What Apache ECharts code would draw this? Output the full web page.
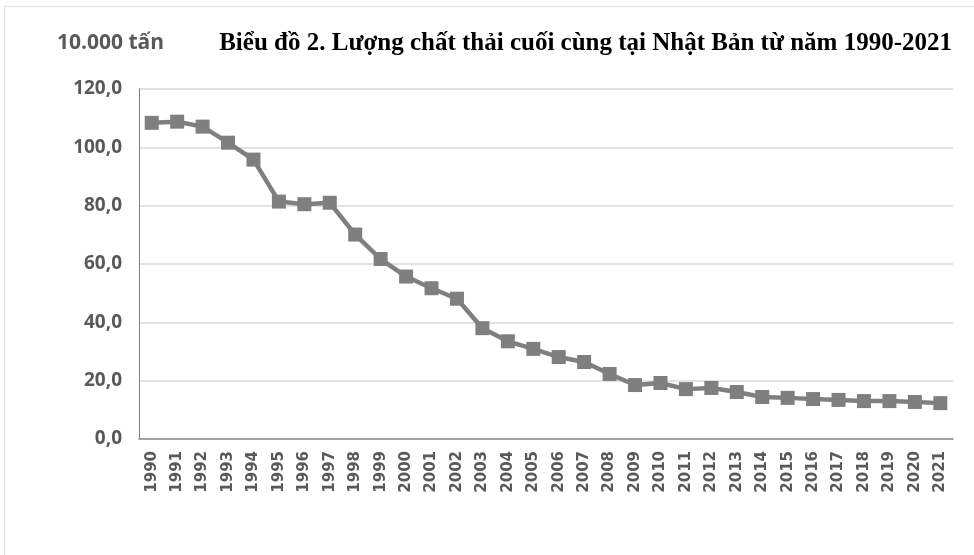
<!DOCTYPE html>
<html>
<head>
<meta charset="utf-8">
<script src="https://cdn.jsdelivr.net/npm/echarts@6/dist/echarts.min.js"></script>
<style>html,body{margin:0;padding:0;background:#fff;}#c{width:974px;height:555px;}</style>
</head>
<body>
<div id="c"></div>
<script>
var years = ['1990','1991','1992','1993','1994','1995','1996','1997','1998','1999','2000','2001','2002','2003','2004','2005','2006','2007','2008','2009','2010','2011','2012','2013','2014','2015','2016','2017','2018','2019','2020','2021'];
var values = [108.4,108.8,107.1,101.6,95.8,81.4,80.5,81.0,70.1,61.7,55.7,51.7,48.1,38.0,33.5,30.9,28.1,26.4,22.3,18.5,19.2,17.1,17.5,16.1,14.4,14.1,13.7,13.4,13.0,13.0,12.7,12.3];
var yTicks = [0,20,40,60,80,100,120];
var titleText = 'Biểu đồ 2. Lượng chất thải cuối cùng tại Nhật Bản từ năm 1990-2021';
var unitText = '10.000 tấn';

var chart = echarts.init(document.getElementById('c'));
chart.setOption({
  backgroundColor: '#fff',
  animation: false,
  graphic: [
    {type:'rect', shape:{x:4.5,y:6.5,width:975,height:560}, style:{fill:'none', stroke:'#e0e0e0', lineWidth:1}},
    {type:'text', left:57, top:33, style:{text:unitText, font:'bold 21px "Open Sans", sans-serif', fill:'#595959'}},
    {type:'text', right:22, top:31, style:{text:titleText, font:'bold 25px "Liberation Serif", "Times New Roman", serif', fill:'#000'}}
  ],
  grid: {left:139, right:21, top:89, bottom:116},
  xAxis: {
    type:'category', data: years, boundaryGap:true,
    axisLine:{lineStyle:{color:'#8c8c8c', width:1.5}},
    axisTick:{show:false},
    axisLabel:{rotate:90, interval:0, color:'#595959', fontWeight:'bold', fontSize:15, fontFamily:'"DejaVu Sans", sans-serif', margin:12}
  },
  yAxis: {
    type:'value', min:yTicks[0], max:yTicks[yTicks.length-1], interval:20,
    axisLine:{show:true, lineStyle:{color:'#7f7f7f', width:1}},
    axisTick:{show:false},
    splitLine:{lineStyle:{color:'#d9d9d9', width:1.5}},
    axisLabel:{color:'#595959', fontWeight:'bold', fontSize:19, fontFamily:'"Open Sans", sans-serif', margin:17,
      formatter:function(v){return v.toFixed(1).replace('.', ',');}}
  },
  series: [{
    type:'line', data: values,
    symbol:'rect', symbolSize:14,
    lineStyle:{color:'#7f7f7f', width:4.5},
    itemStyle:{color:'#7f7f7f'}
  }]
});
</script>
</body>
</html>
